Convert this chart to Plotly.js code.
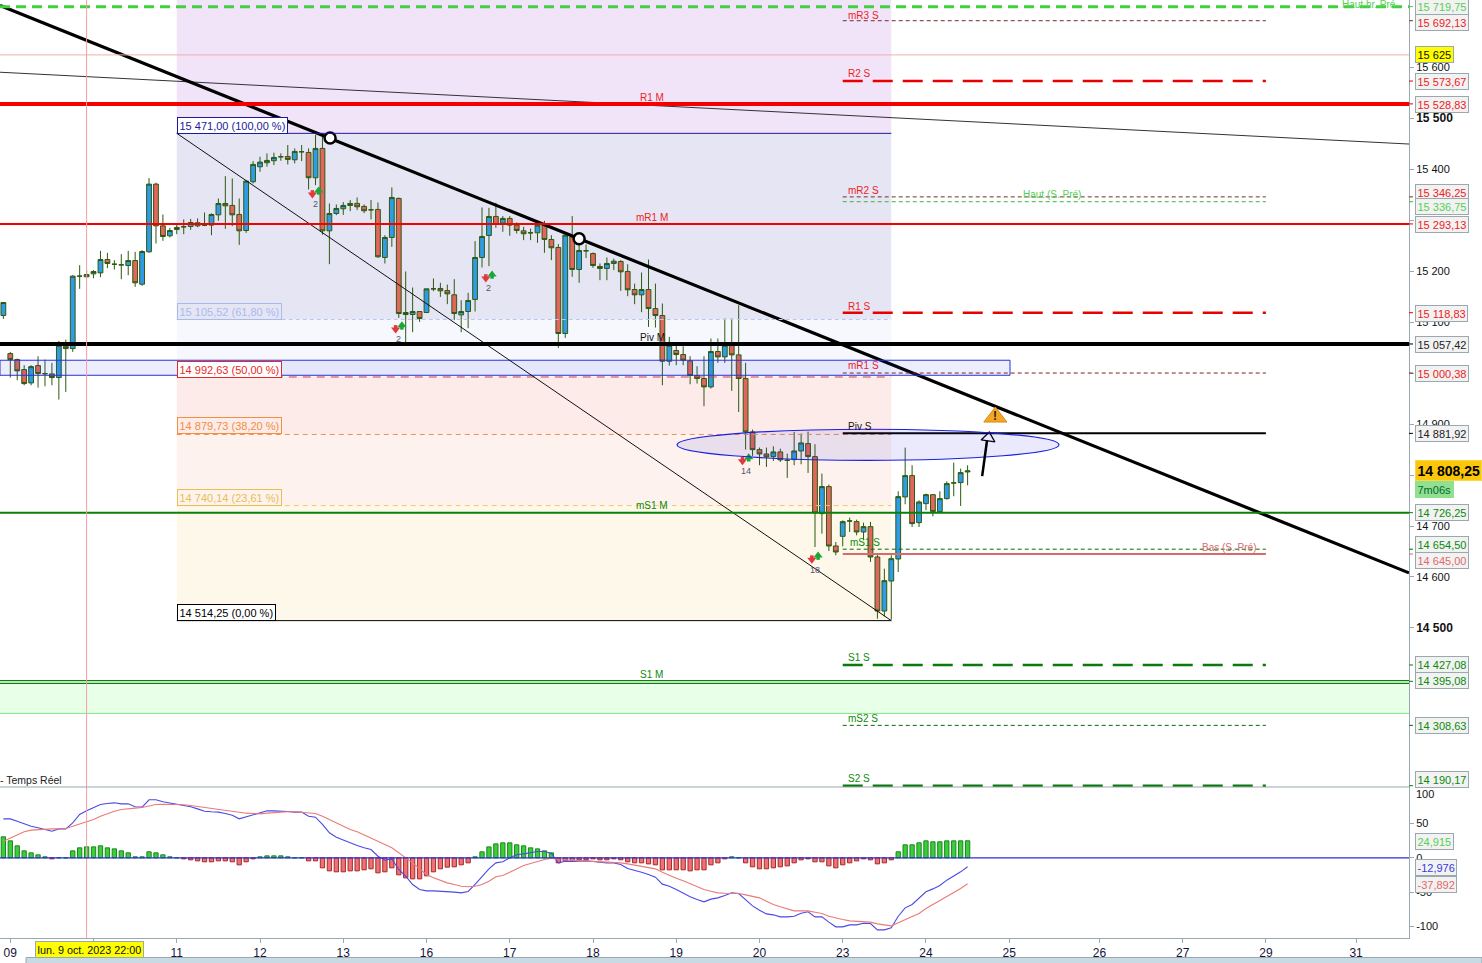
<!DOCTYPE html>
<html><head><meta charset="utf-8">
<script src="https://cdn.plot.ly/plotly-3.0.1.min.js"></script>
<style>html,body{margin:0;padding:0;background:#fff;overflow:hidden}</style></head>
<body><div id="chart" style="width:1482px;height:963px"></div>
<script>
var opens=[15113.3,15038.6,15026.8,15007.2,14981,15015,14999.3,14998.7,14991.5,15053,15048.4,15190.6,15193.8,15195.1,15197,15223.3,15214,15212.8,15211.5,15221.3,15174.8,15238.4,15371.3,15289.4,15269.8,15282.3,15287.5,15288.1,15289.4,15290.8,15290.8,15311,15333.3,15329.4,15311.7,15280.3,15376,15405.4,15413.2,15417.2,15425,15425.6,15419.1,15434.8,15433.5,15383.8,15441.4,15279.6,15313.7,15322.9,15329.4,15333.4,15327.5,15320.9,15321.6,15227.3,15266.6,15343.2,15119.2,15115.3,15121.2,15119.2,15165.7,15166.4,15162.4,15154,15114.6,15121.2,15144.8,15227.3,15270.5,15307.8,15294.7,15303.9,15290.8,15279.6,15275.7,15275.7,15290.8,15262.6,15246.9,15078,15267.9,15203.7,15240.4,15235.1,15209.6,15205.7,15215.5,15219.4,15199.8,15164.4,15153.9,15164.4,15127,15113.3,15023.6,15044.6,15036.7,15024.3,14995.4,14989.6,14973.2,15042.6,15032.1,15055,15036,14989.6,14884.8,14850,14841.5,14836.3,14845.5,14829.1,14830.4,14847.4,14861.9,14836.3,14724.3,14777.4,14660.8,14679.8,14709.9,14708.6,14688.3,14698.8,14639.2,14533.1,14592,14635.3,14757,14799,14706.6,14744,14761.6,14728.3,14753.8,14784.6,14785.2,14806.2];
var closes=[15138.8,15026.8,15004.6,14979.7,15013,14999.3,14999,14991.5,15055,15048.4,15190.6,15190.6,15189.3,15199.7,15223.3,15215.4,15214,15212.8,15221.3,15177.5,15239,15371.3,15289.4,15268.5,15280.3,15286.2,15287.5,15296,15295.4,15290.8,15311.7,15333.3,15328.7,15311,15279.6,15377.2,15410,15414.5,15417.8,15423.7,15425,15419.8,15435.5,15434.8,15383.8,15441.4,15279.6,15313.7,15323.5,15329.4,15333.4,15326.8,15319,15320.9,15228.6,15266.6,15345.1,15117.2,15115.3,15121.2,15107.4,15165.7,15165.7,15161.8,15155.9,15117.2,15121.2,15142.8,15227.3,15268.5,15307.8,15292.1,15303.9,15290.8,15280.3,15273.8,15275.7,15290.8,15262.6,15246.3,15078,15271,15203.7,15241,15240.4,15211.5,15205.7,15215.5,15220,15199.1,15163.8,15153.9,15164.4,15127,15113.3,15023.6,15055,15036.7,15025.6,14995.4,14989.6,14973.2,15042.6,15032.1,15055,15036,14989.6,14884.8,14850,14841.5,14835.7,14845.5,14829.8,14829.1,14847.4,14863.2,14836.3,14725.6,14777.4,14660.8,14649,14708.6,14709.9,14688.3,14698.8,14639.2,14533.1,14592.7,14635.9,14757.7,14799,14704.7,14747.2,14761.6,14728.3,14753.8,14783.3,14784.6,14804.9,14808.25];
var highs=[15139,15041.9,15028.8,15015.7,15015.7,15033.4,15026.8,15020.3,15063.5,15066,15192.5,15212.2,15202,15202.3,15240.3,15236.4,15222,15233.8,15240.3,15238.4,15241.6,15383.1,15374,15311.7,15285.5,15292,15302,15303,15304,15315.6,15313.7,15343,15387,15382.4,15343,15379.2,15416.5,15425,15431.6,15433,15431.6,15448,15441.4,15448,15441.4,15468,15471,15333.3,15331.4,15336,15340,15345,15331.4,15340,15335.3,15271,15364.8,15345,15199.8,15168.3,15121.2,15165.7,15186,15177.5,15174,15184.7,15143.4,15157.9,15259.4,15325.5,15324.8,15334.7,15308.5,15308.5,15296,15287.5,15284,15299.3,15299.3,15271,15253.5,15274.4,15308.5,15255,15252.8,15237,15215.5,15227.3,15225,15222,15214,15176,15197.8,15223.3,15176,15136.9,15071.4,15054.4,15053,15033.4,15013.8,15033.4,15068.1,15068.1,15107.4,15107.4,15133.6,15020.3,14889.4,14854,14854,14856.6,14852,14842,14884.8,14881.5,14885.4,14860.6,14803,14781.3,14668.7,14711.2,14716.5,14712.5,14706.6,14708,14645.7,14616.2,14642.5,14768.2,14854,14819.3,14750.5,14763.6,14761.6,14768.2,14787.8,14824.5,14812.7,14819.3];
var lows=[15106.7,14991.5,14986.2,14976.4,14976.4,14971.8,14974.4,14976.4,14948.3,14963.3,15041.9,15165.7,15187,15186.6,15188.6,15206.3,15203.6,15184.6,15192.5,15169.6,15171.6,15236.4,15254.7,15260,15266.5,15273,15273,15281.6,15286.8,15288.8,15271,15299.3,15283.6,15288.8,15252,15275.7,15372.6,15395.5,15405.4,15408.6,15417.2,15410,15412,15416.5,15360.8,15369.3,15272,15214.1,15310.4,15311,15318.3,15320.3,15314.4,15302,15226.6,15215.5,15248.2,15108.7,15060,15080.6,15100.9,15119.2,15161,15150,15135.6,15104.1,15080.6,15088.4,15121.2,15207.6,15210.2,15285.5,15277.7,15269.8,15274.4,15261.3,15261.3,15256,15236.4,15222,15049.8,15069.4,15189.3,15177.5,15226,15207,15182.7,15182.7,15202.4,15161.8,15151.3,15135.6,15119.9,15091,15089.7,14976.4,15015,15015.7,15015.7,14978.4,14979.7,14935.2,14969.9,15020.3,15020.3,14965.3,14924,14850,14837.6,14819.3,14816,14827.8,14825.8,14794.4,14819.3,14821.2,14804.2,14658.8,14685,14651,14642.5,14660.1,14688.3,14681.8,14672,14629.4,14518,14522.6,14516,14609.7,14742.7,14698.1,14698.1,14730.9,14719,14725.6,14751.8,14758.4,14739.4,14780];
var macdHist=[30.7,24.8,17.5,10.2,7.3,4.4,1.5,-1.5,0,0,10.2,14.6,16,16,17.5,14.6,13.1,10.2,7.3,1.5,1.5,8.8,7.3,4.4,1.5,0,-1.5,-2.9,-4.4,-5.8,-5.8,-4.4,-4.4,-5.8,-10.2,-5.8,-1.5,1.5,2.9,2.9,2.9,1.5,0,0,-4.4,-4.4,-14.6,-19,-20.4,-20.4,-19,-19,-17.5,-16,-21.9,-20.4,-14.6,-24.8,-29.2,-30.7,-30.7,-26.3,-20.4,-16,-13.6,-13.1,-10.2,-7.3,1.5,8.8,16,20.4,21.9,21.9,19,17.5,14.6,13.1,10.2,7.3,-7.3,-4.4,-4.4,-2.9,-2.9,-1.5,-2.9,-2.9,-1.5,-2.9,-5.8,-7.3,-7.3,-8.8,-10.2,-17.5,-17.5,-17.5,-17.5,-19,-17.5,-17.5,-10.2,-7.3,-1.5,1.5,0,-7.3,-13.1,-16,-16,-14.6,-13.1,-11.7,-7.3,-2.9,-1.5,-5.8,-5.8,-11.7,-14.6,-10.2,-7.3,-4.4,-1.5,-2.9,-8.8,-7.3,-2.9,8.8,19,19,21.9,24.8,23.4,23.4,24.8,24.8,24.8,24.915];
var macdLine=[56.9,56.9,53.5,49.6,46.2,43.8,41.4,38.9,42.3,42.3,51.1,63.3,68.6,73,77.9,79.3,80.3,78.8,78.8,74.5,74,84.7,84.7,81.8,79.8,78.8,76.4,74.5,71.5,68.1,67.2,66.7,64.7,62.3,56.9,59.9,63.3,65.7,68.6,68.6,68.6,67.6,66.7,66.7,60.8,59.4,48.7,36.5,30.2,25.8,21.9,18,14.6,12.2,2.4,-3.4,-1.5,-17,-26.8,-38.9,-46.2,-48.2,-48.2,-48.7,-48.7,-50.1,-51.1,-49.1,-38.9,-26.8,-16.1,-7.3,-5.8,0,4.4,5.8,7.3,9.2,9.2,6.3,-7.3,-4.9,-5.3,-4.9,-4.4,-5.3,-6.8,-7.3,-7.3,-9.7,-15.6,-18,-20.9,-24.3,-28.2,-38.4,-41.4,-46.2,-51.6,-56.9,-60.8,-64.2,-60.3,-58.4,-55,-51.1,-52.1,-60.8,-70.1,-76.4,-81.8,-83.2,-86.1,-86.1,-85.2,-80.8,-78.8,-86.1,-86.1,-93.9,-100.7,-100.7,-97.8,-97.8,-95.4,-95.9,-105.1,-105.1,-102.2,-85.2,-73,-68.1,-58.4,-49.6,-45.3,-40.4,-32.6,-26.8,-20.4,-12.976];
var signalLine=[24.3,29.2,34.1,38,40.4,41.4,42.3,42.3,42.3,42.8,46.2,49.6,53.5,56,60.8,64.7,68.1,70.6,72,72.5,73.5,75.4,77.9,78.3,78.3,77.9,77.4,76.4,74.9,73.5,72,70.6,69.6,68.1,65.7,65.2,64.7,64.2,65.2,66.2,66.7,67.2,67.2,66.7,65.7,64.7,60.8,56,51.1,46.2,41.4,38,33.6,29.2,24.3,19.5,14.6,7.3,0,-7.3,-16.1,-24.3,-29.2,-33.1,-36.5,-38.9,-41.4,-42.3,-41.4,-38.9,-34.1,-27.7,-25.8,-20.9,-16.1,-11.2,-8.3,-5.3,-2.4,-0.5,-2.4,-2.9,-3.4,-4.4,-4.9,-5.3,-5.8,-5.8,-6.3,-7.3,-8.8,-10.7,-12.2,-14.1,-16.1,-20.9,-25.8,-29.7,-33.6,-37.5,-41.8,-46.2,-48.7,-51.1,-51.6,-52.1,-52.1,-54,-56.4,-58.4,-63.3,-68.1,-71.5,-74.5,-77.4,-77.4,-77.4,-79.3,-81.3,-85.2,-88.1,-90,-92,-92.5,-93.4,-93.9,-96.4,-97.8,-99.3,-94.9,-90,-85.6,-81.3,-74,-68.1,-62.3,-56.9,-51.1,-44.8,-37.892];

var dayTickIdx=[1,13,25,37,49,61,73,85,97,109,121,133,145,158,170,182,195];
var dayTickTxt=['09','','11','12','13','16','17','18','19','20','23','24','25','26','27','29','31'];
var priceTicks=[15600,15500,15400,15300,15200,15100,15000,14900,14800,14700,14600,14500];
var priceTickTxt=['15 600','<b style="font-size:12px">15 500</b>','15 400','','15 200','15 100','','14 900','','14 700','14 600','<b style="font-size:12px">14 500</b>'];
var fibPrices=[15471,15105.52,14992.63,14879.73,14740.14,14514.25];
var fibTxt=['15 471,00 (100,00 %)','15 105,52 (61,80 %)','14 992,63 (50,00 %)','14 879,73 (38,20 %)','14 740,14 (23,61 %)','14 514,25 (0,00 %)'];
var weekPrices=[15692.13,15573.67,15346.25,15336.75,15118.83,15000.38,14881.92,14654.5,14645,14427.08,14308.63,14190.17];
var monthPrices=[15719.75,15528.83,15293.13,15057.42,14726.25,14395.08];
var boxTxt=['15 719,75','15 692,13','15 573,67','15 528,83','15 346,25','15 336,75','15 293,13','15 118,83','15 057,42','15 000,38','14 881,92','14 726,25','14 654,50','14 645,00','14 427,08','14 395,08','14 308,63','14 190,17'];
var signalIdx=[45,57,70,107,117];
var signalPrice=[15353,15088,15188,14829,14636];
var signalCount=['2','2','2','14','18'];
var trendMainY=[15722,14608];
var trendThinY=[15591,15450];
var touchIdx=[47.1,83];
var touchPrice=[15462,15264];

var idx=opens.map(function(_,i){return i});
var X0=-0.484,X1=202.63,Y0=14187.6,Y1=15732.8,W=1409,H=938,SPLIT=787;
function xOfPx(p){return X0+(X1-X0)*p/W}
var BLUE='#2f9ce8',RED='#e0665e',WICK='#2d5a10',AX='#9aa8b0',FONT='"Liberation Sans",Arial,sans-serif';

var shapes=[],ann=[];
function rect(x0,x1,y0,y1,fill,line,layer){shapes.push({type:'rect',xref:'x',yref:'y',x0:x0,x1:x1,y0:y0,y1:y1,fillcolor:fill,line:line||{width:0},layer:layer||'below'})}
function hl(x0,x1,y,color,w,dash,full){shapes.push({type:'line',xref:full?'paper':'x',yref:'y',x0:x0,x1:x1,y0:y,y1:y,line:{color:color,width:w,dash:dash||'solid'},layer:'above'})}
function axisTick(y,color){shapes.push({type:'line',xref:'paper',yref:'y',x0:1,x1:1+4/W,y0:y,y1:y,line:{color:color,width:1},layer:'above'})}
var iL=25,iR=128;
rect(iL,iR,fibPrices[0],Y1,'#f1e4f8');
rect(iL,iR,fibPrices[1],fibPrices[0],'#e5e5f4');
rect(iL,iR,fibPrices[2],fibPrices[1],'#f7f8fe');
rect(iL,iR,fibPrices[3],fibPrices[2],'#fdebea');
rect(iL,iR,fibPrices[4],fibPrices[3],'#fef2ee');
rect(iL,iR,fibPrices[5],fibPrices[4],'#fef8ea');
rect(X0,X1,14332,14392,'#e8ffe8');
hl(0,1,14332,'#80e880',1,'solid',true);
rect(X0,xOfPx(1010),14996,15025.5,'rgba(60,70,230,0.09)',{color:'#2a2fd8',width:1},'above');
hl(iL,iR,fibPrices[0],'#1a1a9a',1);
hl(iL,iR,fibPrices[1],'#b8c8f0',1,'4px,3px');
hl(iL,iR,fibPrices[2],'#d04040',1,'8px,6px');
hl(iL,iR,fibPrices[3],'#f09050',1,'5px,4px');
hl(iL,iR,fibPrices[4],'#f2c860',1,'5px,4px');
hl(iL,iR,fibPrices[5],'#000',1);
shapes.push({type:'line',xref:'x',yref:'y',x0:iL,x1:iR,y0:fibPrices[0],y1:fibPrices[5],line:{color:'#111',width:1},layer:'above'});
var wkA=121,wkB=182;
var thin='4px,3px',lng='20px,10px';
var wkColor=['#703030','#e80000','#703030','#38b838','#e80000','#802020','#000','#0a6a0a','#d86a6a','#0a7a0a','#0a6a0a','#0a7a0a'];
var wkWidth=[1,2.5,1,1,2.5,1,2,1,2,2.5,1,2.5];
var wkDash=[thin,lng,thin,thin,lng,thin,'solid',thin,'solid',lng,thin,lng];
weekPrices.forEach(function(p,k){hl(wkA,wkB,p,wkColor[k],wkWidth[k],wkDash[k]);axisTick(p,wkColor[k])});
hl(0,1,monthPrices[0],'#40d040',3,'10px,6px',true);
hl(0,1,monthPrices[1],'#f40000',4,'solid',true);
hl(0,1,monthPrices[2],'#f40000',2,'solid',true);
hl(0,1,monthPrices[3],'#000',4,'solid',true);
hl(0,1,monthPrices[4],'#0a800a',2,'solid',true);
hl(0,1,14396.5,'#0a800a',1.3,'solid',true);
hl(0,1,14391,'#0a800a',1.3,'solid',true);
var moC=['#40d040','#f40000','#f40000','#000','#0a800a','#0a800a'];
monthPrices.forEach(function(p,k){axisTick(p,moC[k])});
hl(0,1,15625,'#eeb0b0',1,'solid',true);
shapes.push({type:'line',xref:'x',yref:'paper',x0:12,x1:12,y0:0,y1:1,line:{color:'#f0a0a0',width:1},layer:'above'});
shapes.push({type:'circle',xref:'x',yref:'y',x0:xOfPx(677),x1:xOfPx(1059),y0:14829,y1:14890,fillcolor:'rgba(50,50,230,0.10)',line:{color:'#1a20e0',width:1.2},layer:'above'});
shapes.push({type:'line',xref:'x',yref:'y',x0:141.1,x1:141.8,y0:14798,y1:14868,line:{color:'#000',width:2.5},layer:'above'});
shapes.push({type:'line',xref:'paper',yref:'y2',x0:0,x1:1,y0:0,y1:0,line:{color:'#2a2fd8',width:1.3},layer:'above'});
shapes.push({type:'line',xref:'paper',yref:'paper',x0:0,x1:1,y0:(H-SPLIT)/H,y1:(H-SPLIT)/H,line:{color:AX,width:1},layer:'above'});
shapes.push({type:'rect',xref:'paper',yref:'paper',x0:26/W,x1:1482/W,y0:(H-957.5)/H,y1:(H-965)/H,fillcolor:'#c8dae4',line:{color:'#9aa8b0',width:1},layer:'above'});

function lab(px,py,text,color,size,o){o=o||{};var a={xref:'paper',yref:'paper',x:px/W,y:(H-py)/H,xanchor:o.xa||'left',yanchor:'middle',text:text,showarrow:false,font:{family:FONT,size:size||10,color:color},borderpad:o.pad||0,borderwidth:o.bw||0};if(o.bg)a.bgcolor=o.bg;if(o.bc)a.bordercolor=o.bc;ann.push(a)}
var R='#ee1c1c',G='#0a8a0a',LG='#55d055';
lab(848,15,'mR3 S',R);lab(848,74,'R2 S',R);lab(640,97,'R1 M',R);lab(848,190,'mR2 S',R);
lab(636,217,'mR1 M',R);lab(1023,195,'Haut (S. Pré)',LG);lab(848,306,'R1 S',R);lab(640,337,'Piv M','#111');
lab(848,366,'mR1 S',R);lab(848,426,'Piv S','#111');lab(636,505,'mS1 M',G);lab(850,542,'mS1 S',G);
lab(1202,547,'Bas (S. Pré)','#d86a6a');lab(848,657,'S1 S',G);lab(640,674,'S1 M',G);lab(848,718,'mS2 S',G);lab(848,778,'S2 S',G);
lab(1342,5,'Haut hr. Pré',LG);lab(0,780,'- Temps Réel','#222',10.5);
var fibColors=['#1a1a9a','#a8bcec','#e82828','#f09040','#e8c050','#000'];
var fibPy=[125.5,311,369,425.5,497,612];
fibTxt.forEach(function(t,k){lab(177.5,fibPy[k],t,fibColors[k],11,{bg:k==0||k==2||k==5?'#fff':undefined,bc:fibColors[k],bw:1,pad:1.5})});
var bX=1414.5,bC=[LG,R,R,R,R,LG,R,R,'#222',R,'#222',G,G,'#e06a6a',G,G,G,G];
var bY=[6,22,81,104,192,207,224,313,344,373,433,512,544,560,664,681,725,779];
boxTxt.forEach(function(t,k){lab(bX,bY[k],t,bC[k],11,{bg:'#f2f2f2',bc:AX,bw:1,pad:1.5})});
lab(bX,55,'15 625','#111',11,{bg:'#ffff00',bc:AX,bw:1,pad:1.5});
lab(bX,470.5,'<b>14 808,25</b>','#000',14,{bg:'#fcc60a',bc:'#f8d848',bw:1,pad:1.5});
lab(bX,489,'7m06s','#063',11,{bg:'#90e090',pad:2.5});
lab(bX+2,794,'100','#111',11);
lab(bX,841,'24,915',LG,11,{bg:'#f2f2f2',bc:AX,bw:1,pad:1.5});
lab(bX,867,'-12,976','#3a3ae0',11,{bg:'#f2f2f2',bc:AX,bw:1,pad:1.5});
lab(bX,884,'-37,892','#e06a6a',11,{bg:'#f2f2f2',bc:AX,bw:1,pad:1.5});
lab(35,949,'lun. 9 oct. 2023 22:00','#111',10.8,{bg:'#ffff00',bc:AX,bw:1,pad:1.5});
var yHpx=function(v){return (Y1-v)/(Y1-Y0)*SPLIT};
signalIdx.forEach(function(ix,k){lab(3.36+6.937*ix,yHpx(signalPrice[k])+11,signalCount[k],'#556',9,{xa:'center'})});
ann.push({xref:'x',yref:'y',x:143,y:14916,text:'<b>!</b>',showarrow:false,font:{family:FONT,size:12,color:'#222'}});

var traces=[
 {type:'candlestick',x:idx,open:opens,high:highs,low:lows,close:closes,xaxis:'x',yaxis:'y',whiskerwidth:0,
  increasing:{line:{color:WICK,width:1},fillcolor:BLUE},decreasing:{line:{color:WICK,width:1},fillcolor:RED},hoverinfo:'skip'},
 {type:'scatter',mode:'lines',x:[X0,X1],y:trendThinY,xaxis:'x',yaxis:'y',line:{color:'#333',width:1},hoverinfo:'skip'},
 {type:'scatter',mode:'lines',x:[X0,X1],y:trendMainY,xaxis:'x',yaxis:'y',line:{color:'#000',width:3.2},hoverinfo:'skip'},
 {type:'scatter',mode:'markers',x:signalIdx.map(function(v){return v-0.45}),y:signalPrice.map(function(v){return v-2}),xaxis:'x',yaxis:'y',marker:{symbol:'triangle-down',size:8,color:'#e23a3a'},hoverinfo:'skip'},
 {type:'scatter',mode:'markers',x:signalIdx.map(function(v){return v-0.45}),y:signalPrice.map(function(v){return v+3}),xaxis:'x',yaxis:'y',marker:{symbol:'square',size:3.5,color:'#e23a3a'},hoverinfo:'skip'},
 {type:'scatter',mode:'markers',x:signalIdx.map(function(v){return v+0.45}),y:signalPrice.map(function(v){return v+6}),xaxis:'x',yaxis:'y',marker:{symbol:'triangle-up',size:8,color:'#18a838'},hoverinfo:'skip'},
 {type:'scatter',mode:'markers',x:signalIdx.map(function(v){return v+0.45}),y:signalPrice.map(function(v){return v+1}),xaxis:'x',yaxis:'y',marker:{symbol:'square',size:3.5,color:'#18a838'},hoverinfo:'skip'},
 {type:'scatter',mode:'markers',x:touchIdx,y:touchPrice,xaxis:'x',yaxis:'y',marker:{symbol:'circle',size:11,color:'#fff',line:{color:'#000',width:2.5}},hoverinfo:'skip'},
 {type:'scatter',mode:'markers',x:[143],y:[14914],xaxis:'x',yaxis:'y',marker:{symbol:'triangle-up',size:20,color:'#f5a623',line:{color:'#d88a10',width:1}},hoverinfo:'skip'},
 {type:'scatter',mode:'markers',x:[142],y:[14873],xaxis:'x',yaxis:'y',marker:{symbol:'triangle-up',size:12,angle:8,color:'#fff',line:{color:'#000',width:1.3}},hoverinfo:'skip'},
 {type:'bar',x:idx,y:macdHist,xaxis:'x',yaxis:'y2',width:0.62,marker:{color:macdHist.map(function(v){return v>=0?'#3fcb3f':'#ee7272'}),line:{color:macdHist.map(function(v){return v>=0?'#148a14':'#a82828'}),width:1}},hoverinfo:'skip'},
 {type:'scatter',mode:'lines',x:idx,y:macdLine,xaxis:'x',yaxis:'y2',line:{color:'#4a4ae4',width:1.1},hoverinfo:'skip'},
 {type:'scatter',mode:'lines',x:idx,y:signalLine,xaxis:'x',yaxis:'y2',line:{color:'#ea7a7a',width:1.1},hoverinfo:'skip'}
];
var axFont={family:FONT,size:11,color:'#111'};
var layout={width:1482,height:963,autosize:false,showlegend:false,paper_bgcolor:'#fff',plot_bgcolor:'#fff',
 margin:{l:0,r:73,t:0,b:25,pad:0},shapes:shapes,annotations:ann,hovermode:false,boxgap:0.17,boxgroupgap:0.17,
 xaxis:{type:'linear',anchor:'y2',range:[X0,X1],tickmode:'array',tickvals:dayTickIdx,ticktext:dayTickTxt,ticks:'outside',ticklen:4,tickcolor:AX,showgrid:false,zeroline:false,showline:true,linecolor:AX,linewidth:1,tickfont:{family:FONT,size:12,color:'#14143c'},rangeslider:{visible:false},fixedrange:true},
 yaxis:{domain:[(H-SPLIT)/H,1],anchor:'x',side:'right',range:[Y0,Y1],tickmode:'array',tickvals:priceTicks,ticktext:priceTickTxt,ticks:'outside',ticklen:4,tickcolor:AX,showgrid:false,zeroline:false,showline:true,linecolor:AX,linewidth:1,tickfont:axFont,fixedrange:true},
 yaxis2:{domain:[0,(H-SPLIT)/H],anchor:'x',side:'right',range:[-117,103.4],tickmode:'array',tickvals:[50,0,-50,-100],ticktext:['50','0','-50','-100'],ticks:'outside',ticklen:4,tickcolor:AX,showgrid:false,zeroline:false,showline:true,linecolor:AX,linewidth:1,tickfont:axFont,fixedrange:true}
};
Plotly.newPlot('chart',traces,layout,{displayModeBar:false,staticPlot:true});
</script></body></html>
